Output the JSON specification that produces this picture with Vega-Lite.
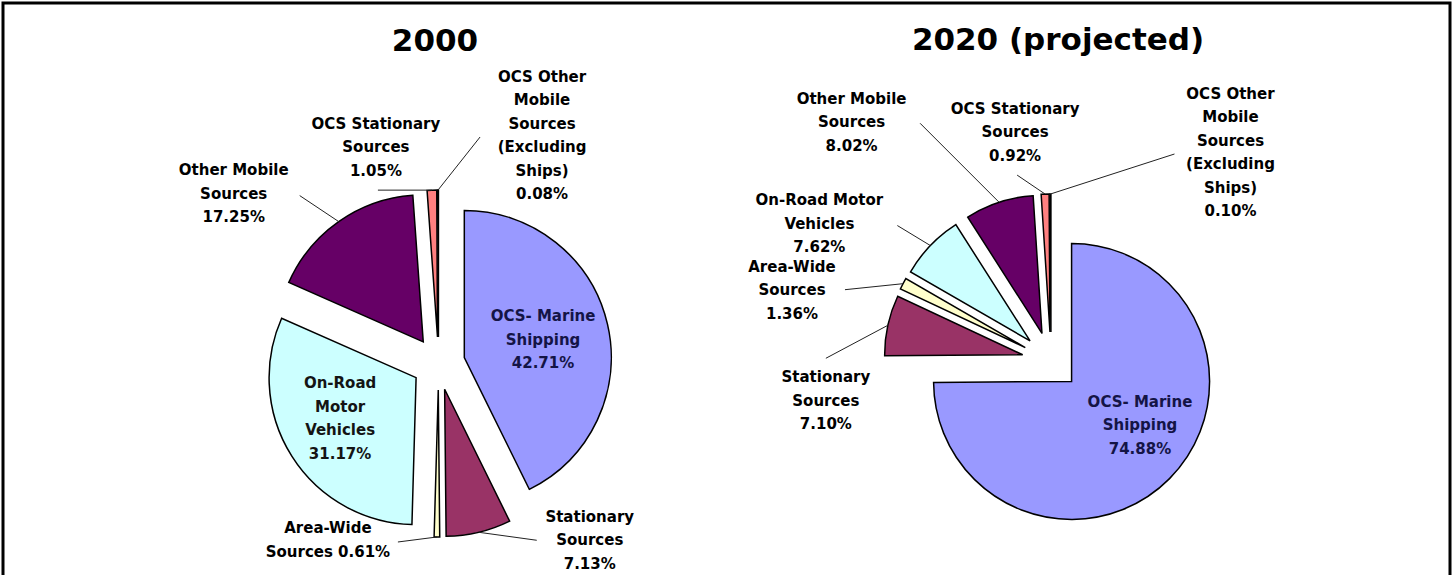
{
  "$schema": "https://vega.github.io/schema/vega-lite/v6.json",
  "width": 1447,
  "height": 575,
  "autosize": {"type": "none"},
  "padding": {"left": 3, "top": 3, "right": 3, "bottom": -3},
  "background": "white",
  "config": {"view": {"stroke": "black", "strokeWidth": 3}},
  "data": {
    "values": [
      {"year": "2000", "source": "OCS- Marine Shipping", "percent": 42.71, "label": "OCS- Marine\nShipping\n42.71%"},
      {"year": "2000", "source": "Stationary Sources", "percent": 7.13, "label": "Stationary\nSources\n7.13%"},
      {"year": "2000", "source": "Area-Wide Sources", "percent": 0.61, "label": "Area-Wide\nSources 0.61%"},
      {"year": "2000", "source": "On-Road Motor Vehicles", "percent": 31.17, "label": "On-Road\nMotor\nVehicles\n31.17%"},
      {"year": "2000", "source": "Other Mobile Sources", "percent": 17.25, "label": "Other Mobile\nSources\n17.25%"},
      {"year": "2000", "source": "OCS Stationary Sources", "percent": 1.05, "label": "OCS Stationary\nSources\n1.05%"},
      {"year": "2000", "source": "OCS Other Mobile Sources (Excluding Ships)", "percent": 0.08, "label": "OCS Other\nMobile\nSources\n(Excluding\nShips)\n0.08%"},
      {"year": "2020 (projected)", "source": "OCS- Marine Shipping", "percent": 74.88, "label": "OCS- Marine\nShipping\n74.88%"},
      {"year": "2020 (projected)", "source": "Stationary Sources", "percent": 7.10, "label": "Stationary\nSources\n7.10%"},
      {"year": "2020 (projected)", "source": "Area-Wide Sources", "percent": 1.36, "label": "Area-Wide\nSources\n1.36%"},
      {"year": "2020 (projected)", "source": "On-Road Motor Vehicles", "percent": 7.62, "label": "On-Road Motor\nVehicles\n7.62%"},
      {"year": "2020 (projected)", "source": "Other Mobile Sources", "percent": 8.02, "label": "Other Mobile\nSources\n8.02%"},
      {"year": "2020 (projected)", "source": "OCS Stationary Sources", "percent": 0.92, "label": "OCS Stationary\nSources\n0.92%"},
      {"year": "2020 (projected)", "source": "OCS Other Mobile Sources (Excluding Ships)", "percent": 0.10, "label": "OCS Other\nMobile\nSources\n(Excluding\nShips)\n0.10%"}
    ]
  },
  "transform": [
    {"window": [{"op": "sum", "field": "percent", "as": "t1"}], "groupby": ["year"], "frame": [null, 0]},
    {"calculate": "datum.t1 - datum.percent", "as": "t0"},
    {"calculate": "PI * (datum.t0 + datum.t1) / 100", "as": "ang"}
  ],
  "layer": [
    {
      "transform": [
        {"filter": "datum.year === '2000'"},
        {"calculate": "26.5 * sin(datum.ang)", "as": "ex"},
        {"calculate": "26.5 * cos(datum.ang)", "as": "ey"},
        {"calculate": "173.5 * sin(datum.ang)", "as": "lx"},
        {"calculate": "173.5 * cos(datum.ang)", "as": "ly"}
      ],
      "layer": [
        {
          "mark": {"type": "arc", "radius": 147, "stroke": "black", "strokeWidth": 1.5, "strokeJoin": "miter"},
          "encoding": {
            "x": {"field": "ex", "type": "quantitative", "scale": {"domain": [-435.5, 1011.5], "nice": false, "zero": false}, "axis": null},
            "y": {"field": "ey", "type": "quantitative", "scale": {"domain": [-214.5, 360.5], "nice": false, "zero": false}, "axis": null},
            "theta": {"field": "t0", "type": "quantitative", "stack": null, "scale": {"domain": [0, 100], "range": [0, 6.283185307179586]}},
            "theta2": {"field": "t1"},
            "color": {"field": "source", "type": "nominal", "legend": null, "scale": {"domain": ["OCS- Marine Shipping", "Stationary Sources", "Area-Wide Sources", "On-Road Motor Vehicles", "Other Mobile Sources", "OCS Stationary Sources", "OCS Other Mobile Sources (Excluding Ships)"], "range": ["#9999FF", "#993366", "#FFFFCC", "#CCFFFF", "#660066", "#FF8080", "#0066CC"]}}
          }
        },
        {
          "transform": [{"filter": "datum.source === 'OCS- Marine Shipping'"}],
          "mark": {"type": "text", "dx": -3.5, "dy": -312.8, "font": "DejaVu Sans", "fontSize": 31, "fontWeight": "bold", "align": "center", "baseline": "alphabetic", "color": "black"},
          "encoding": {
            "x": {"datum": 0, "type": "quantitative", "scale": {"domain": [-435.5, 1011.5], "nice": false, "zero": false}, "axis": null},
            "y": {"datum": 0, "type": "quantitative", "scale": {"domain": [-214.5, 360.5], "nice": false, "zero": false}, "axis": null},
            "text": {"field": "year"}
          }
        },
        {
          "transform": [{"filter": "datum.source === 'Stationary Sources'"}],
          "mark": {"type": "rule", "x2Offset": 58, "y2Offset": 8, "color": "#222222", "strokeWidth": 1},
          "encoding": {"x": {"field": "lx", "type": "quantitative"}, "y": {"field": "ly", "type": "quantitative"}, "x2": {"field": "lx"}, "y2": {"field": "ly"}}
        },
        {
          "transform": [{"filter": "datum.source === 'Area-Wide Sources'"}],
          "mark": {"type": "rule", "x2Offset": -39, "y2Offset": 5, "color": "#222222", "strokeWidth": 1},
          "encoding": {"x": {"field": "lx", "type": "quantitative"}, "y": {"field": "ly", "type": "quantitative"}, "x2": {"field": "lx"}, "y2": {"field": "ly"}}
        },
        {
          "transform": [{"filter": "datum.source === 'Other Mobile Sources'"}],
          "mark": {"type": "rule", "x2Offset": -39, "y2Offset": -26, "color": "#222222", "strokeWidth": 1},
          "encoding": {"x": {"field": "lx", "type": "quantitative"}, "y": {"field": "ly", "type": "quantitative"}, "x2": {"field": "lx"}, "y2": {"field": "ly"}}
        },
        {
          "transform": [{"filter": "datum.source === 'OCS Stationary Sources'"}],
          "mark": {"type": "rule", "x2Offset": -54, "y2Offset": 0, "color": "#222222", "strokeWidth": 1},
          "encoding": {"x": {"field": "lx", "type": "quantitative"}, "y": {"field": "ly", "type": "quantitative"}, "x2": {"field": "lx"}, "y2": {"field": "ly"}}
        },
        {
          "transform": [{"filter": "datum.source === 'OCS Other Mobile Sources (Excluding Ships)'"}],
          "mark": {"type": "rule", "x2Offset": 42, "y2Offset": -53, "color": "#222222", "strokeWidth": 1},
          "encoding": {"x": {"field": "lx", "type": "quantitative"}, "y": {"field": "ly", "type": "quantitative"}, "x2": {"field": "lx"}, "y2": {"field": "ly"}}
        },
        {
          "transform": [{"filter": "datum.source === 'OCS- Marine Shipping'"}],
          "mark": {"type": "text", "dx": 78.7, "dy": -41, "font": "DejaVu Sans", "fontSize": 15, "fontWeight": "bold", "lineHeight": 23.5, "lineBreak": "\n", "align": "center", "baseline": "middle", "color": "#141446"},
          "encoding": {"x": {"field": "ex", "type": "quantitative"}, "y": {"field": "ey", "type": "quantitative"}, "text": {"field": "label"}}
        },
        {
          "transform": [{"filter": "datum.source === 'On-Road Motor Vehicles'"}],
          "mark": {"type": "text", "dx": -76, "dy": 5.75, "font": "DejaVu Sans", "fontSize": 15, "fontWeight": "bold", "lineHeight": 23.5, "lineBreak": "\n", "align": "center", "baseline": "middle", "color": "#141414"},
          "encoding": {"x": {"field": "ex", "type": "quantitative"}, "y": {"field": "ey", "type": "quantitative"}, "text": {"field": "label"}}
        },
        {
          "transform": [{"filter": "datum.source === 'Stationary Sources'"}],
          "mark": {"type": "text", "dx": 111, "dy": -15.5, "font": "DejaVu Sans", "fontSize": 15, "fontWeight": "bold", "lineHeight": 23.5, "lineBreak": "\n", "align": "center", "baseline": "middle", "color": "black"},
          "encoding": {"x": {"field": "lx", "type": "quantitative"}, "y": {"field": "ly", "type": "quantitative"}, "text": {"field": "label"}}
        },
        {
          "transform": [{"filter": "datum.source === 'Area-Wide Sources'"}],
          "mark": {"type": "text", "dx": -109, "dy": -8.75, "font": "DejaVu Sans", "fontSize": 15, "fontWeight": "bold", "lineHeight": 23.5, "lineBreak": "\n", "align": "center", "baseline": "middle", "color": "black"},
          "encoding": {"x": {"field": "lx", "type": "quantitative"}, "y": {"field": "ly", "type": "quantitative"}, "text": {"field": "label"}}
        },
        {
          "transform": [{"filter": "datum.source === 'Other Mobile Sources'"}],
          "mark": {"type": "text", "dx": -105, "dy": -51.5, "font": "DejaVu Sans", "fontSize": 15, "fontWeight": "bold", "lineHeight": 23.5, "lineBreak": "\n", "align": "center", "baseline": "middle", "color": "black"},
          "encoding": {"x": {"field": "lx", "type": "quantitative"}, "y": {"field": "ly", "type": "quantitative"}, "text": {"field": "label"}}
        },
        {
          "transform": [{"filter": "datum.source === 'OCS Stationary Sources'"}],
          "mark": {"type": "text", "dx": -56, "dy": -66.5, "font": "DejaVu Sans", "fontSize": 15, "fontWeight": "bold", "lineHeight": 23.5, "lineBreak": "\n", "align": "center", "baseline": "middle", "color": "black"},
          "encoding": {"x": {"field": "lx", "type": "quantitative"}, "y": {"field": "ly", "type": "quantitative"}, "text": {"field": "label"}}
        },
        {
          "transform": [{"filter": "datum.source === 'OCS Other Mobile Sources (Excluding Ships)'"}],
          "mark": {"type": "text", "dx": 104, "dy": -113.25, "font": "DejaVu Sans", "fontSize": 15, "fontWeight": "bold", "lineHeight": 23.5, "lineBreak": "\n", "align": "center", "baseline": "middle", "color": "black"},
          "encoding": {"x": {"field": "lx", "type": "quantitative"}, "y": {"field": "ly", "type": "quantitative"}, "text": {"field": "label"}}
        }
      ]
    },
    {
      "transform": [
        {"filter": "datum.year === '2020 (projected)'"},
        {"calculate": "29 * sin(datum.ang)", "as": "ex"},
        {"calculate": "29 * cos(datum.ang)", "as": "ey"},
        {"calculate": "167 * sin(datum.ang)", "as": "lx"},
        {"calculate": "167 * cos(datum.ang)", "as": "ly"}
      ],
      "layer": [
        {
          "mark": {"type": "arc", "radius": 138, "stroke": "black", "strokeWidth": 1.5, "strokeJoin": "miter"},
          "encoding": {
            "x": {"field": "ex", "type": "quantitative", "scale": {"domain": [-1048, 399], "nice": false, "zero": false}, "axis": null},
            "y": {"field": "ey", "type": "quantitative", "scale": {"domain": [-217, 358], "nice": false, "zero": false}, "axis": null},
            "theta": {"field": "t0", "type": "quantitative", "stack": null, "scale": {"domain": [0, 100], "range": [0, 6.283185307179586]}},
            "theta2": {"field": "t1"},
            "color": {"field": "source", "type": "nominal", "legend": null}
          }
        },
        {
          "transform": [{"filter": "datum.source === 'OCS- Marine Shipping'"}],
          "mark": {"type": "text", "dx": 7, "dy": -311, "font": "DejaVu Sans", "fontSize": 31, "fontWeight": "bold", "align": "center", "baseline": "alphabetic", "color": "black"},
          "encoding": {
            "x": {"datum": 0, "type": "quantitative", "scale": {"domain": [-1048, 399], "nice": false, "zero": false}, "axis": null},
            "y": {"datum": 0, "type": "quantitative", "scale": {"domain": [-217, 358], "nice": false, "zero": false}, "axis": null},
            "text": {"field": "year"}
          }
        },
        {
          "transform": [{"filter": "datum.source === 'Stationary Sources'"}],
          "mark": {"type": "rule", "x2Offset": -62, "y2Offset": 33, "color": "#222222", "strokeWidth": 1},
          "encoding": {"x": {"field": "lx", "type": "quantitative"}, "y": {"field": "ly", "type": "quantitative"}, "x2": {"field": "lx"}, "y2": {"field": "ly"}}
        },
        {
          "transform": [{"filter": "datum.source === 'Area-Wide Sources'"}],
          "mark": {"type": "rule", "x2Offset": -58, "y2Offset": 6, "color": "#222222", "strokeWidth": 1},
          "encoding": {"x": {"field": "lx", "type": "quantitative"}, "y": {"field": "ly", "type": "quantitative"}, "x2": {"field": "lx"}, "y2": {"field": "ly"}}
        },
        {
          "transform": [{"filter": "datum.source === 'On-Road Motor Vehicles'"}],
          "mark": {"type": "rule", "x2Offset": -33, "y2Offset": -20, "color": "#222222", "strokeWidth": 1},
          "encoding": {"x": {"field": "lx", "type": "quantitative"}, "y": {"field": "ly", "type": "quantitative"}, "x2": {"field": "lx"}, "y2": {"field": "ly"}}
        },
        {
          "transform": [{"filter": "datum.source === 'Other Mobile Sources'"}],
          "mark": {"type": "rule", "x2Offset": -79, "y2Offset": -79, "color": "#222222", "strokeWidth": 1},
          "encoding": {"x": {"field": "lx", "type": "quantitative"}, "y": {"field": "ly", "type": "quantitative"}, "x2": {"field": "lx"}, "y2": {"field": "ly"}}
        },
        {
          "transform": [{"filter": "datum.source === 'OCS Stationary Sources'"}],
          "mark": {"type": "rule", "x2Offset": -28, "y2Offset": -19, "color": "#222222", "strokeWidth": 1},
          "encoding": {"x": {"field": "lx", "type": "quantitative"}, "y": {"field": "ly", "type": "quantitative"}, "x2": {"field": "lx"}, "y2": {"field": "ly"}}
        },
        {
          "transform": [{"filter": "datum.source === 'OCS Other Mobile Sources (Excluding Ships)'"}],
          "mark": {"type": "rule", "x2Offset": 124, "y2Offset": -40, "color": "#222222", "strokeWidth": 1},
          "encoding": {"x": {"field": "lx", "type": "quantitative"}, "y": {"field": "ly", "type": "quantitative"}, "x2": {"field": "lx"}, "y2": {"field": "ly"}}
        },
        {
          "transform": [{"filter": "datum.source === 'OCS- Marine Shipping'"}],
          "mark": {"type": "text", "dx": 68.4, "dy": 20.1, "font": "DejaVu Sans", "fontSize": 15, "fontWeight": "bold", "lineHeight": 23.5, "lineBreak": "\n", "align": "center", "baseline": "middle", "color": "#141446"},
          "encoding": {"x": {"field": "ex", "type": "quantitative"}, "y": {"field": "ey", "type": "quantitative"}, "text": {"field": "label"}}
        },
        {
          "transform": [{"filter": "datum.source === 'Stationary Sources'"}],
          "mark": {"type": "text", "dx": -62, "dy": 52.1, "font": "DejaVu Sans", "fontSize": 15, "fontWeight": "bold", "lineHeight": 23.5, "lineBreak": "\n", "align": "center", "baseline": "middle", "color": "black"},
          "encoding": {"x": {"field": "lx", "type": "quantitative"}, "y": {"field": "ly", "type": "quantitative"}, "text": {"field": "label"}}
        },
        {
          "transform": [{"filter": "datum.source === 'Area-Wide Sources'"}],
          "mark": {"type": "text", "dx": -111, "dy": -17.1, "font": "DejaVu Sans", "fontSize": 15, "fontWeight": "bold", "lineHeight": 23.5, "lineBreak": "\n", "align": "center", "baseline": "middle", "color": "black"},
          "encoding": {"x": {"field": "lx", "type": "quantitative"}, "y": {"field": "ly", "type": "quantitative"}, "text": {"field": "label"}}
        },
        {
          "transform": [{"filter": "datum.source === 'On-Road Motor Vehicles'"}],
          "mark": {"type": "text", "dx": -111, "dy": -45.1, "font": "DejaVu Sans", "fontSize": 15, "fontWeight": "bold", "lineHeight": 23.5, "lineBreak": "\n", "align": "center", "baseline": "middle", "color": "black"},
          "encoding": {"x": {"field": "lx", "type": "quantitative"}, "y": {"field": "ly", "type": "quantitative"}, "text": {"field": "label"}}
        },
        {
          "transform": [{"filter": "datum.source === 'Other Mobile Sources'"}],
          "mark": {"type": "text", "dx": -147.5, "dy": -103.5, "font": "DejaVu Sans", "fontSize": 15, "fontWeight": "bold", "lineHeight": 23.5, "lineBreak": "\n", "align": "center", "baseline": "middle", "color": "black"},
          "encoding": {"x": {"field": "lx", "type": "quantitative"}, "y": {"field": "ly", "type": "quantitative"}, "text": {"field": "label"}}
        },
        {
          "transform": [{"filter": "datum.source === 'OCS Stationary Sources'"}],
          "mark": {"type": "text", "dx": -30, "dy": -85.5, "font": "DejaVu Sans", "fontSize": 15, "fontWeight": "bold", "lineHeight": 23.5, "lineBreak": "\n", "align": "center", "baseline": "middle", "color": "black"},
          "encoding": {"x": {"field": "lx", "type": "quantitative"}, "y": {"field": "ly", "type": "quantitative"}, "text": {"field": "label"}}
        },
        {
          "transform": [{"filter": "datum.source === 'OCS Other Mobile Sources (Excluding Ships)'"}],
          "mark": {"type": "text", "dx": 180, "dy": -100.25, "font": "DejaVu Sans", "fontSize": 15, "fontWeight": "bold", "lineHeight": 23.5, "lineBreak": "\n", "align": "center", "baseline": "middle", "color": "black"},
          "encoding": {"x": {"field": "lx", "type": "quantitative"}, "y": {"field": "ly", "type": "quantitative"}, "text": {"field": "label"}}
        }
      ]
    }
  ],
  "resolve": {"scale": {"x": "independent", "y": "independent"}}
}
